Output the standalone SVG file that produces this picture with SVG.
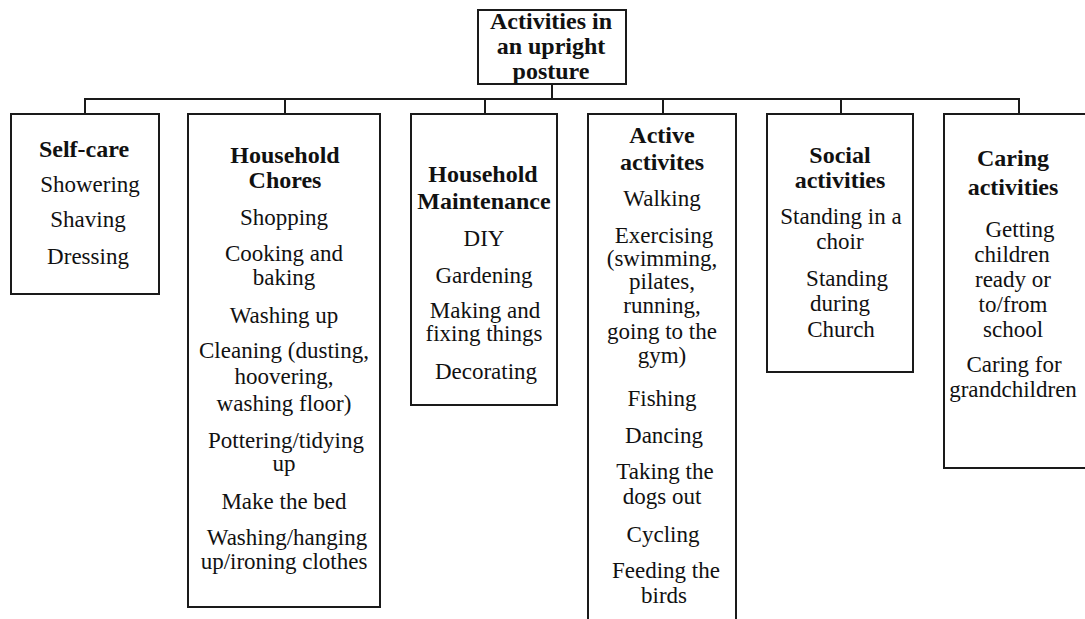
<svg xmlns="http://www.w3.org/2000/svg" width="1085" height="619" viewBox="0 0 1085 619" font-family="Liberation Serif, DejaVu Serif, serif">
<style>
.box{fill:#fff;stroke:#1a1a1a;stroke-width:2}
.ln{stroke:#1a1a1a;stroke-width:2;fill:none}
text{font-family:"Liberation Serif", "DejaVu Serif", serif;fill:#111;text-anchor:middle}
.h{font-weight:bold;font-size:24px}
.t{font-size:23px}
</style>
<rect width="1085" height="619" fill="#fff"/>
<g id="connectors">
<line class="ln" x1="552" y1="84" x2="552" y2="99"/>
<line class="ln" x1="84" y1="99" x2="1020" y2="99"/>
<line class="ln" x1="85" y1="99" x2="85" y2="114"/>
<line class="ln" x1="285" y1="99" x2="285" y2="114"/>
<line class="ln" x1="485" y1="99" x2="485" y2="114"/>
<line class="ln" x1="663" y1="99" x2="663" y2="114"/>
<line class="ln" x1="841" y1="99" x2="841" y2="114"/>
<line class="ln" x1="1019" y1="99" x2="1019" y2="114"/>
</g>
<g id="root">
<rect class="box" x="478" y="10" width="148" height="74"/>
<text class="h" x="551" y="29">Activities in</text>
<text class="h" x="551" y="54">an upright</text>
<text class="h" x="551" y="79">posture</text>
</g>
<g id="self-care">
<rect class="box" x="11" y="114" width="148" height="180"/>
<text class="h" x="84" y="157">Self-care</text>
<text class="t" x="90" y="192">Showering</text>
<text class="t" x="88" y="227">Shaving</text>
<text class="t" x="88" y="264">Dressing</text>
</g>
<g id="household-chores">
<rect class="box" x="188" y="114" width="192" height="493"/>
<text class="h" x="285" y="163">Household</text>
<text class="h" x="285" y="188">Chores</text>
<text class="t" x="284" y="225">Shopping</text>
<text class="t" x="284" y="261">Cooking and</text>
<text class="t" x="284" y="285">baking</text>
<text class="t" x="284" y="323">Washing up</text>
<text class="t" x="284" y="358">Cleaning (dusting,</text>
<text class="t" x="284" y="384">hoovering,</text>
<text class="t" x="284" y="411">washing floor)</text>
<text class="t" x="286" y="448">Pottering/tidying</text>
<text class="t" x="284" y="471">up</text>
<text class="t" x="284" y="509">Make the bed</text>
<text class="t" x="287" y="545">Washing/hanging</text>
<text class="t" x="284" y="569">up/ironing clothes</text>
</g>
<g id="household-maintenance">
<rect class="box" x="411" y="114" width="146" height="291"/>
<text class="h" x="483" y="182">Household</text>
<text class="h" x="484" y="209">Maintenance</text>
<text class="t" x="484" y="246">DIY</text>
<text class="t" x="484" y="283">Gardening</text>
<text class="t" x="485" y="318">Making and</text>
<text class="t" x="484" y="341">fixing things</text>
<text class="t" x="486" y="379">Decorating</text>
</g>
<g id="active-activities">
<rect class="box" x="588" y="114" width="148" height="520"/>
<text class="h" x="662" y="143">Active</text>
<text class="h" x="662" y="170">activites</text>
<text class="t" x="662" y="206">Walking</text>
<text class="t" x="664" y="243">Exercising</text>
<text class="t" x="662" y="266">(swimming,</text>
<text class="t" x="662" y="289">pilates,</text>
<text class="t" x="662" y="313">running,</text>
<text class="t" x="662" y="339">going to the</text>
<text class="t" x="662" y="363">gym)</text>
<text class="t" x="662" y="406">Fishing</text>
<text class="t" x="664" y="443">Dancing</text>
<text class="t" x="665" y="479">Taking the</text>
<text class="t" x="662" y="504">dogs out</text>
<text class="t" x="663" y="542">Cycling</text>
<text class="t" x="666" y="578">Feeding the</text>
<text class="t" x="664" y="603">birds</text>
</g>
<g id="social-activities">
<rect class="box" x="767" y="114" width="146" height="258"/>
<text class="h" x="840" y="163">Social</text>
<text class="h" x="840" y="188">activities</text>
<text class="t" x="841" y="224">Standing in a</text>
<text class="t" x="840" y="249">choir</text>
<text class="t" x="847" y="286">Standing</text>
<text class="t" x="840" y="311">during</text>
<text class="t" x="841" y="337">Church</text>
</g>
<g id="caring-activities">
<rect class="box" x="944" y="114" width="150" height="354"/>
<text class="h" x="1013" y="166">Caring</text>
<text class="h" x="1013" y="195">activities</text>
<text class="t" x="1020" y="237">Getting</text>
<text class="t" x="1012" y="262">children</text>
<text class="t" x="1013" y="287">ready or</text>
<text class="t" x="1013" y="312">to/from</text>
<text class="t" x="1013" y="337">school</text>
<text class="t" x="1014" y="372">Caring for</text>
<text class="t" x="1013" y="397">grandchildren</text>
</g>
</svg>
